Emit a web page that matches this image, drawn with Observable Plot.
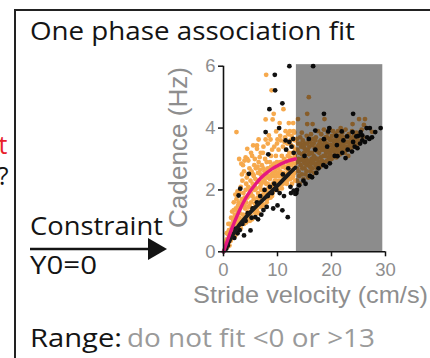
<!DOCTYPE html>
<html>
<head>
<meta charset="utf-8">
<script src="https://cdn.jsdelivr.net/npm/d3@7"></script>
<script src="https://cdn.jsdelivr.net/npm/@observablehq/plot@0.6"></script>
<style>
  html, body { margin: 0; padding: 0; background: #fff; }
  #chart { width: 430px; height: 358px; overflow: hidden; }
  g[aria-label$="axis tick"] { stroke: #111; stroke-width: 1.5; }
</style>
</head>
<body>
<div id="chart"></div>
<script>
// ---- data ----
const xTicks = [0, 10, 20, 30];
const yTicks = [0, 2, 4, 6];
const excludedRange = [13.5, 29.5];   // x range not fitted (shaded)
const excludedTop = 6.05;

// orange group, fitted region
const orangeFit = [
[0.3,0.1],[0.5,0.25],[0.6,0.4],[0.8,0.3],[0.9,0.55],[1.0,0.7],[0.7,0.15],[1.1,0.45],
[1.2,0.9],[1.3,0.6],[1.4,1.1],[1.5,0.8],[1.6,1.3],[1.7,0.5],[1.8,1.0],[1.9,1.35],[1.4,0.4],[2.0,0.7],[1.9,1.6],
[2.1,1.2],[2.2,0.9],[2.3,1.4],[2.4,1.7],[2.5,1.0],[2.6,1.3],[2.7,0.8],[2.8,1.6],[2.9,1.1],[2.4,3.87],[2.9,3.0],[3.0,1.9],[2.2,1.85],[2.6,1.95],[2.5,0.6],
[3.1,1.4],[3.2,2.1],[3.3,1.0],[3.4,1.7],[3.5,2.3],[3.6,1.2],[3.7,1.9],[3.8,2.6],[3.9,1.5],[3.4,2.5],[3.1,0.85],[3.6,2.8],[4.0,1.1],[3.9,2.95],[3.3,2.85],[4.1,3.05],
[4.1,2.0],[4.2,1.6],[4.3,2.4],[4.4,3.0],[4.5,1.3],[4.6,2.1],[4.7,1.8],[4.8,2.7],[4.9,1.0],[4.4,3.33],[4.6,2.95],[5.0,2.3],[4.2,2.2],[4.8,1.5],
[5.1,1.9],[5.2,2.6],[5.3,1.4],[5.4,2.2],[5.5,3.44],[5.6,1.7],[5.7,2.8],[5.8,2.0],[5.9,1.25],[5.3,3.1],[5.6,2.45],[6.0,2.7],[5.1,3.2],[5.8,3.0],
[6.1,1.6],[6.2,3.33],[6.2,3.44],[6.3,2.3],[6.4,1.9],[6.5,3.63],[6.5,2.9],[6.6,1.5],[6.7,3.06],[6.8,2.1],[6.9,2.5],[7.0,1.8],[6.3,2.75],[6.9,3.2],[7.0,2.2],
[7.1,2.8],[7.2,1.7],[7.3,2.4],[7.4,3.4],[7.5,2.0],[7.6,2.6],[7.7,3.0],[7.8,3.63],[7.8,4.28],[7.9,5.72],[7.9,2.2],[8.0,1.6],[7.3,3.2],[7.6,1.9],[8.0,2.9],
[8.1,2.4],[8.2,3.5],[8.3,1.9],[8.4,3.76],[8.5,2.7],[8.6,2.1],[8.7,3.63],[8.8,3.1],[8.9,5.22],[8.9,2.5],[9.0,1.8],[9.1,4.28],[9.0,3.3],[8.6,2.9],[8.2,2.2],
[9.1,2.2],[9.2,2.8],[9.3,4.46],[9.4,3.4],[9.5,2.0],[9.6,2.6],[9.7,3.1],[9.76,3.89],[9.8,2.3],[10.0,3.63],[9.9,2.9],[10.0,2.1],[9.4,2.45],[9.9,3.5],
[10.1,2.7],[10.2,3.3],[10.3,2.2],[10.4,4.16],[10.5,2.9],[10.6,3.6],[10.7,2.5],[10.8,3.1],[10.9,2.3],[11.0,3.4],[11.1,4.61],[11.0,2.8],[10.5,3.75],[10.8,2.05],
[11.2,3.0],[11.3,2.4],[11.4,3.7],[11.5,2.7],[11.6,3.3],[11.7,2.2],[11.8,3.5],[11.9,2.9],[12.0,3.8],[12.1,4.16],[12.0,2.6],[11.5,3.9],[11.9,2.45],[11.3,3.55],
[12.2,3.2],[12.3,2.5],[12.4,3.6],[12.5,2.8],[12.6,3.75],[12.7,3.0],[12.8,2.4],[12.9,4.16],[12.9,3.4],[13.0,2.7],[13.1,3.85],[13.2,3.1],[13.3,2.3],[12.3,3.9],[12.7,2.2],[13.2,3.6],[12.5,3.45],[13.0,3.9],
[0.4,0.3],[0.6,0.6],[0.9,0.9],[1.1,0.2],[1.3,0.35],[1.6,0.65],[1.8,0.75],[2.0,1.1],[2.1,0.5],[2.3,0.65],[2.4,1.15],[2.7,1.5],[2.8,0.95],[3.0,1.25],
[3.2,0.75],[3.3,1.55],[3.5,1.05],[3.6,1.65],[3.8,0.9],[3.9,1.75],[4.0,1.4],[4.2,0.95],[4.3,1.2],[4.4,1.75],[4.5,2.5],[4.6,1.1],[4.7,1.45],[4.9,2.0],
[5.0,1.2],[5.1,1.6],[5.2,2.05],[5.3,1.05],[5.4,1.8],[5.5,2.5],[5.6,1.35],[5.7,2.15],[5.8,1.55],[5.9,2.35],[6.0,1.45],[6.1,2.05],[6.2,1.35],[6.3,1.75],
[6.4,2.55],[6.5,1.25],[6.6,2.25],[6.7,1.65],[6.8,2.65],[6.9,1.45],[7.0,2.0],[7.1,1.55],[7.2,2.25],[7.3,1.85],[7.4,2.7],[7.5,1.5],[7.6,2.3],[7.7,1.75],
[7.8,2.5],[7.9,1.95],[8.0,2.6],[8.1,1.7],[8.2,2.7],[8.3,2.05],[8.4,2.45],[8.5,1.85],[8.6,2.35],[8.7,1.75],[8.8,2.75],[8.9,2.05],[9.0,2.45],[9.1,1.9],
[9.2,2.55],[9.3,2.1],[9.4,2.85],[9.5,2.3],[9.6,2.0],[9.7,2.45],[9.8,2.7],[9.9,2.15],[10.0,2.55],[10.1,2.0],[10.2,2.45],[10.3,2.85],[10.4,2.3],[10.5,2.6],
[10.6,2.15],[10.7,2.9],[10.8,2.45],[10.9,2.75],[11.0,2.2],[11.1,2.55],[11.2,2.35],[11.3,2.75],[11.4,2.25],[11.5,2.95],[11.6,2.5],[11.7,2.75],[11.8,2.3],
[11.9,3.1],[12.0,2.35],[12.1,2.85],[12.2,2.55],[12.3,3.05],[12.4,2.35],[12.5,2.6],[12.6,2.9],[12.7,2.55],[12.8,3.2],[12.9,2.45],[13.0,3.0],[13.1,2.55],
[13.2,2.85],[13.3,3.3]
];

// black group, fitted region
const blackFit = [
[0.5,0.1],[0.8,0.2],[1.0,0.35],[1.5,0.5],[2.0,0.45],[2.2,0.75],[2.6,0.6],
[2.8,1.82],[3.1,2.04],[3.0,0.7],[3.5,0.9],[3.8,0.53],[4.1,1.0],[4.5,1.25],
[4.7,2.52],[5.0,0.69],[5.2,1.1],[5.4,1.4],[5.9,1.12],[6.2,1.6],[6.4,1.05],
[6.8,1.8],[7.0,1.2],[7.4,1.35],[7.6,2.0],[7.8,3.87],[8.0,1.45],[8.3,3.15],
[8.2,1.8],[8.5,4.61],[8.6,2.1],[9.0,1.9],[9.2,1.4],[9.5,5.72],[9.56,5.22],[9.4,2.2],
[9.8,2.0],[10.0,1.5],[10.3,4.0],[10.4,1.9],[10.9,4.8],[10.9,1.34],[11.0,2.5],
[11.2,1.8],[11.6,3.3],[11.9,1.12],[12.0,2.7],[12.2,3.55],[12.2,6.0],[12.4,2.1],[12.6,3.4],
[13.0,1.98],[13.0,3.2],[13.3,1.87],[12.5,1.9],[11.5,3.6],[12.9,3.65]
];

// orange group, excluded region
const orangeOut = [
[13.6,2.3],[13.7,2.9],[13.8,3.5],[13.9,2.6],[14.0,3.2],[14.1,2.2],[14.2,3.7],[14.3,2.8],[14.4,3.4],[14.5,2.5],[14.6,3.0],[14.7,3.6],[14.8,2.35],[14.9,3.2],[15.0,2.7],[13.8,4.29],[14.5,3.85],[13.6,3.65],
[15.1,3.5],[15.2,2.5],[15.3,3.0],[15.4,3.75],[15.5,2.8],[15.5,4.46],[15.5,4.13],[15.8,5.0],[15.6,3.3],[15.7,2.4],[15.8,3.6],[15.9,2.9],[16.0,3.2],[16.1,2.6],[16.2,3.8],[16.3,3.0],[16.4,3.45],[16.5,4.13],[16.5,2.7],[16.6,3.65],[16.7,3.1],[16.8,2.55],[16.9,3.35],[17.0,2.85],
[17.1,3.7],[17.2,3.0],[17.3,2.7],[17.4,3.4],[17.5,3.9],[17.6,2.9],[17.7,3.2],[17.8,3.55],[17.9,2.75],[18.0,3.05],[18.1,3.8],[18.2,3.3],[18.3,2.85],[18.4,3.6],[18.5,3.1],[18.6,3.95],[18.7,4.29],[18.7,3.4],[18.8,2.9],[18.9,3.7],[19.0,3.2],
[19.1,3.5],[19.2,2.95],[19.3,3.85],[19.4,3.3],[19.5,3.05],[19.6,3.65],[19.7,3.95],[19.8,3.2],[19.9,3.45],[20.0,3.0],[20.1,3.75],[20.2,3.35],[20.3,3.9],[20.4,3.1],[20.5,3.55],[20.6,3.25],[20.7,3.8],[20.8,3.4],[20.9,3.05],[21.0,3.65],
[21.1,3.3],[21.2,3.9],[21.3,3.5],[21.4,3.15],[21.5,3.75],[21.6,3.4],[21.7,4.0],[21.8,3.25],[21.9,3.6],[22.0,3.85],[22.2,3.45],[22.4,3.7],[22.5,3.2],[22.6,3.95],[22.8,3.55],[23.0,3.35],
[23.2,3.8],[23.4,3.5],[23.6,3.65],[23.8,3.9],[23.9,4.13],[24.0,3.4],[24.2,3.75],[24.4,3.6],[24.6,3.85],[25.1,4.29],[26.2,4.29],[27.5,3.88],[24.9,3.5],[23.1,3.1],
[13.6,2.7],[13.7,3.3],[13.9,3.0],[14.0,2.45],[14.2,2.95],[14.3,3.5],[14.5,3.15],[14.6,2.7],[14.8,3.45],[14.9,2.9],[15.0,3.35],[15.1,2.85],[15.2,3.25],
[15.4,2.6],[15.5,3.5],[15.6,2.95],[15.8,3.15],[15.9,3.4],[16.0,2.75],[16.1,3.55],[16.3,2.85],[16.4,3.2],[16.6,2.95],[16.7,3.5],[16.9,3.05],[17.0,3.6],
[17.1,2.8],[17.3,3.25],[17.4,3.0],[17.6,3.45],[17.7,2.85],[17.9,3.35],[18.0,3.6],[18.2,2.95],[18.3,3.45],[18.5,3.3],[18.6,2.9],[18.8,3.55],[18.9,3.1],
[19.1,3.25],[19.2,3.7],[19.4,2.95],[19.5,3.45],[19.7,3.15],[19.8,3.6],[20.0,3.3],[20.2,3.05],[20.3,3.6],[20.5,3.25],[20.6,3.45],[20.8,3.15],[20.9,3.7],
[21.1,3.55],[21.3,3.25],[21.4,3.65],[21.6,3.15],[21.8,3.5],[22.0,3.35],[22.1,3.7],[22.3,3.3],[22.5,3.55],[22.7,3.4],[22.9,3.75],[23.0,3.55],[23.2,3.4],
[23.4,3.7],[23.5,3.3],[23.7,3.55],[24.0,3.7],[24.2,3.5],[24.5,3.45],[24.7,3.65],[25.0,3.6],[25.3,3.8],[25.6,3.95],[26.0,4.1],[25.8,3.7]
];

// black group, excluded region
const blackOut = [
[13.5,1.9],[13.6,2.0],[14.0,2.15],[14.8,2.3],[15.2,2.2],[16.0,2.45],[16.4,2.41],
[17.2,2.55],[17.6,2.7],[18.5,2.8],[19.0,2.75],[19.7,2.86],[20.6,3.1],[21.1,3.09],
[22.0,3.2],[22.6,3.03],[23.0,3.3],[23.8,3.24],[24.3,3.4],[24.8,3.35],[25.3,3.5],[25.7,3.6],[26.2,3.55],
[26.6,3.7],[27.0,3.65],[15.0,3.1],[17.0,3.3],[19.2,3.4],[21.0,3.45],
[22.2,3.6],[24.0,3.55],[25.0,3.75],[16.6,6.0],[18.6,4.46],[24.0,4.46],[19.6,4.0],[25.4,3.87],[25.7,3.76],
[26.5,4.0],[27.1,4.0],[28.1,3.87],[29.1,4.0],[27.5,3.7],[18.6,3.64],[19.4,3.89],[20.9,3.75],[21.9,3.89],
[22.9,3.73],[23.9,3.87],[24.6,3.73],[15.8,3.65],[17.0,3.92]
];

// fitted curves
const fitMagenta = [
[0,0],[1,0.5],[2,0.95],[3,1.35],[4,1.7],[5,1.97],[6,2.2],[7,2.4],[8,2.55],[9,2.68],[10,2.78],[11,2.87],[12,2.94],[13.3,3.0]
];
const fitBlack = [
[0,0],[1,0.32],[2,0.63],[3,0.88],[4,1.09],[5,1.28],[6,1.46],[7,1.63],[8,1.8],[9,1.97],[10,2.14],[11,2.32],[12,2.5],[13.3,2.72]
];

// ---- chart ----
const ORANGE = "#f6a94d";
const BLACK = "#111111";
const GRAY_TEXT = "#8e8e8e";
const AXIS_FONT = "'Liberation Sans', Arial, Helvetica, sans-serif";
const LABEL_FONT = "'Open Sans', 'Noto Sans', sans-serif";

const dotOpts = {x: d => d[0], y: d => d[1], r: 2.4, stroke: "none"};

const svg = Plot.plot({
  width: 430,
  height: 358,
  marginLeft: 223,
  marginRight: 45,
  marginTop: 65.7,
  marginBottom: 106.7,
  style: {fontFamily: AXIS_FONT, background: "white", overflow: "visible"},
  x: {domain: [0, 30], ticks: xTicks},
  y: {domain: [0, 6], ticks: yTicks},
  marks: [
    Plot.dot(orangeFit, {...dotOpts, fill: ORANGE}),
    Plot.dot(orangeOut, {...dotOpts, fill: ORANGE}),
    Plot.dot(blackFit, {...dotOpts, fill: BLACK}),
    Plot.dot(blackOut, {...dotOpts, fill: BLACK}),
    Plot.rect([excludedRange], {x1: d => d[0], x2: d => d[1], y1: 0, y2: excludedTop, fill: "#000", fillOpacity: 0.45}),
    Plot.line(fitBlack, {x: d => d[0], y: d => d[1], stroke: "#1b1b1b", strokeWidth: 4, curve: "natural"}),
    Plot.line(fitMagenta, {x: d => d[0], y: d => d[1], stroke: "#e6197f", strokeWidth: 3.4, curve: "natural"}),
    Plot.ruleY([0], {stroke: "#111", strokeWidth: 1.6}),
    Plot.ruleX([0], {stroke: "#111", strokeWidth: 1.6}),
    Plot.axisX({ticks: xTicks, tickFormat: d => String(d), tickSize: 5, tickPadding: 6, fontSize: 18.5, color: GRAY_TEXT, label: null}),
    Plot.axisY({ticks: yTicks, tickFormat: d => String(d), tickSize: 5, tickPadding: 3, fontSize: 18.5, color: GRAY_TEXT, label: null})
  ]
});

document.getElementById("chart").appendChild(svg);

// ---- annotations ----
const s = d3.select(svg);
const ink = "#141414";

// panel frame
s.append("line").attr("x1", 15).attr("y1", 10).attr("x2", 15).attr("y2", 360).attr("stroke", "#222").attr("stroke-width", 2);
s.append("line").attr("x1", 14).attr("y1", 10).attr("x2", 432).attr("y2", 10).attr("stroke", "#222").attr("stroke-width", 2);

function txt(str, x, y, opts = {}) {
  const t = s.append("text").attr("x", x).attr("y", y).text(str)
    .attr("font-family", opts.font || LABEL_FONT)
    .attr("font-size", opts.size || 25)
    .attr("fill", opts.fill || ink)
    .attr("text-anchor", opts.anchor || "start");
  if (opts.len) t.attr("textLength", opts.len).attr("lengthAdjust", opts.adjust || "spacingAndGlyphs");
  if (opts.transform) t.attr("transform", opts.transform);
  return t;
}

// neighbouring panel remnants
txt("t", 7.5, 154, {fill: "#e8202a", anchor: "end"});
txt("?", 8.5, 185, {anchor: "end"});

txt("One phase association fit", 30, 39.5, {len: 325});
txt("Constraint", 30, 235, {len: 133});
txt("Y0=0", 30, 274, {len: 67});
txt("Range:", 30, 347, {len: 92});
txt("do not fit <0 or >13", 127, 347, {len: 248, fill: "#9a9a9a"});

// arrow
s.append("line").attr("x1", 30).attr("y1", 249).attr("x2", 152).attr("y2", 249).attr("stroke", ink).attr("stroke-width", 2.5);
s.append("polygon").attr("points", "148,238 167,249 148,260").attr("fill", ink);

// axis titles
txt("Cadence (Hz)", 0, 0, {font: AXIS_FONT, size: 25.5, fill: GRAY_TEXT, anchor: "middle", len: 161, transform: "translate(187,147.5) rotate(-90)"});
txt("Stride velocity (cm/s)", 193, 303, {font: AXIS_FONT, size: 24.5, fill: GRAY_TEXT, len: 235});
</script>
</body>
</html>
